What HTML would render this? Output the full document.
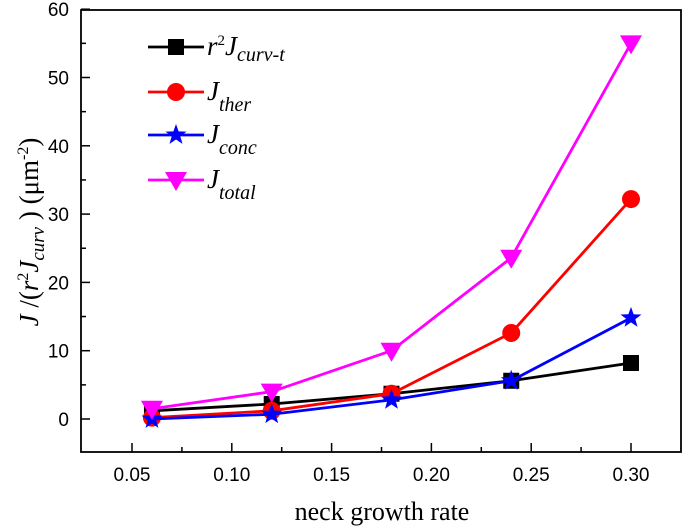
<!DOCTYPE html>
<html><head><meta charset="utf-8"><style>
html,body{margin:0;padding:0;background:#fff}
svg{display:block}
.tk{font-family:"Liberation Sans",sans-serif;font-size:19px;fill:#000}
.se{font-family:"Liberation Serif",serif;fill:#000}
</style></head><body>
<svg id="chart" width="685" height="527" viewBox="0 0 685 527" xmlns="http://www.w3.org/2000/svg">
<g id="axes"></g>
<g id="series"></g>
<g id="legend"></g>
<text class="se" x="382" y="520" text-anchor="middle" font-size="26">neck growth rate</text>
<text class="se" font-size="27" transform="translate(38,232) rotate(-90)" text-anchor="middle"><tspan font-style="italic">J</tspan> /(<tspan font-style="italic">r</tspan><tspan font-size="16" dy="-10">2</tspan><tspan font-style="italic" dy="10">J</tspan><tspan font-style="italic" font-size="19" dy="6">curv</tspan><tspan dy="-6"> )  (μm</tspan><tspan font-size="16" dy="-10">-2</tspan><tspan dy="10">)</tspan></text>
</svg>
<script>
const xVals=[0.06,0.12,0.18,0.24,0.30];
const curvT=[1.2,2.2,3.7,5.6,8.2];
const ther=[0.2,1.2,3.7,12.6,32.2];
const conc=[0.0,0.7,2.8,5.6,14.8];
const total=[1.5,4.0,10.0,23.6,55.0];
const xTicks=[0.05,0.10,0.15,0.20,0.25,0.30];
const xTickLabels=["0.05","0.10","0.15","0.20","0.25","0.30"];
const yTicks=[0,10,20,30,40,50,60];
const yTickLabels=["0","10","20","30","40","50","60"];
const NS="http://www.w3.org/2000/svg";
const L=81,R=681,T=10,B=452;
const X=v=>132+(v-0.05)/0.05*99.8;
const Y=v=>419-v*6.83;
function mk(tag,at,parent){const e=document.createElementNS(NS,tag);for(const k in at)e.setAttribute(k,at[k]);parent.appendChild(e);return e;}
const ax=document.getElementById('axes');
const frame=mk('rect',{x:L,y:T,width:R-L,height:B-T,fill:'none',stroke:'#000','stroke-width':1.8},ax);


xTicks.forEach((v,i)=>{
  const t=mk('line',{x1:X(v),x2:X(v),y1:B,y2:B-9,stroke:'#000','stroke-width':1.5},ax);
  
  
  if(i<xTicks.length-1){const m=mk('line',{x1:X(v+0.025),x2:X(v+0.025),y1:B,y2:B-5,stroke:'#000','stroke-width':1.5},ax);
  
  }
  const l=mk('text',{x:X(v),y:B+29,'text-anchor':'middle',class:'tk'},ax);l.textContent=xTickLabels[i];
  
  
});
yTicks.forEach((v,i)=>{
  const t=mk('line',{x1:L,x2:L+9,y1:Y(v),y2:Y(v),stroke:'#000','stroke-width':1.5},ax);
  
  
  if(i<yTicks.length-1){const m=mk('line',{x1:L,x2:L+5,y1:Y(v+5),y2:Y(v+5),stroke:'#000','stroke-width':1.5},ax);
  
  }
  const l=mk('text',{x:L-12,y:Y(v)+7,'text-anchor':'end',class:'tk'},ax);l.textContent=yTickLabels[i];
  
  
});
function marker(type,cx,cy,color,parent){
  let e;
  if(type==='sq')e=mk('rect',{x:cx-8,y:cy-8,width:16,height:16,fill:color},parent);
  else if(type==='ci')e=mk('circle',{cx:cx,cy:cy,r:9,fill:color},parent);
  else if(type==='tri')e=mk('polygon',{points:`${cx-11},${cy-8} ${cx+11},${cy-8} ${cx},${cy+11}`,fill:color},parent);
  else{let p=[];for(let k=0;k<10;k++){const r=k%2?4.5:11,a=-Math.PI/2+k*Math.PI/5;p.push((cx+r*Math.cos(a)).toFixed(1)+','+(cy+r*Math.sin(a)).toFixed(1));}
    e=mk('polygon',{points:p.join(' '),fill:color},parent);}
  return e;
}
const series=[
 {name:'curv-t',d:curvT,c:'#000',m:'sq'},
 {name:'ther',d:ther,c:'#ff0000',m:'ci'},
 {name:'conc',d:conc,c:'#0000ff',m:'st'},
 {name:'total',d:total,c:'#ff00ff',m:'tri'}];
const sg=document.getElementById('series');
series.forEach(s=>{
  const g=mk('g',{},sg);
  
  
  const pl=mk('polyline',{points:xVals.map((x,i)=>X(x)+','+Y(s.d[i])).join(' '),fill:'none',stroke:s.c,'stroke-width':2.8},g);
  
  
  xVals.forEach((x,i)=>{const m=marker(s.m,X(x),Y(s.d[i]),s.c,g);
    
    });
});
const lg=document.getElementById('legend');
const ly=[47,92,135,180];
const labels=[
 '<tspan font-style="italic">r</tspan><tspan font-size="15" dy="-10">2</tspan><tspan font-style="italic" dy="10">J</tspan><tspan font-style="italic" font-size="20" dy="6">curv-t</tspan>',
 '<tspan font-style="italic">J</tspan><tspan font-style="italic" font-size="20" dy="11">ther</tspan>',
 '<tspan font-style="italic">J</tspan><tspan font-style="italic" font-size="20" dy="11">conc</tspan>',
 '<tspan font-style="italic">J</tspan><tspan font-style="italic" font-size="20" dy="11">total</tspan>'];
series.forEach((s,i)=>{
  const g=mk('g',{},lg);
  
  
  mk('line',{x1:148,x2:204,y1:ly[i],y2:ly[i],stroke:s.c,'stroke-width':2.8},g);
  marker(s.m,176,ly[i],s.c,g);
  const t=mk('text',{x:207,y:ly[i]+8,class:'se','font-size':27},g);t.innerHTML=labels[i];
});
</script>
</body></html>
